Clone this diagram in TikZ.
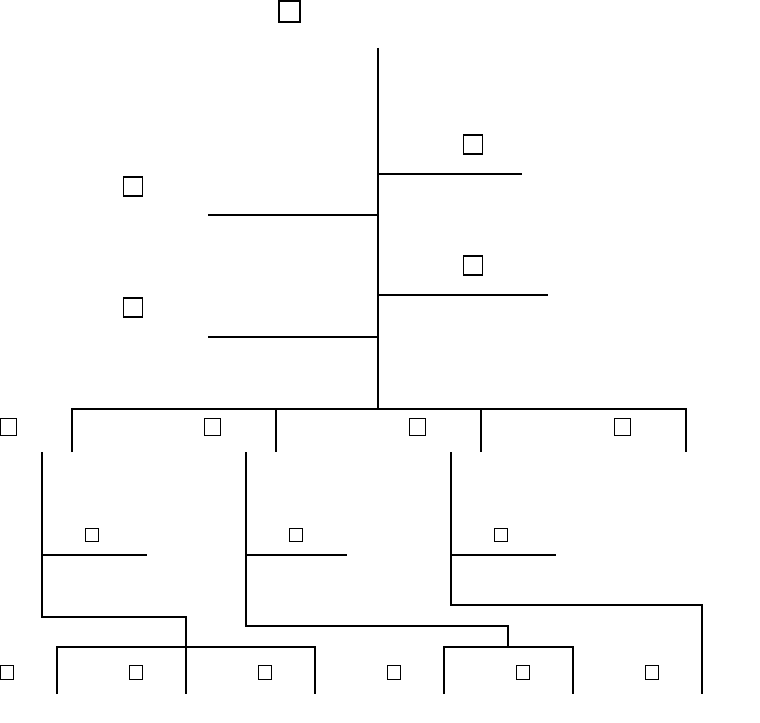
\documentclass[tikz,border=0pt]{standalone}
\begin{document}
\begin{tikzpicture}[x=0.75pt,y=-0.75pt,line width=0.75pt,
  sqA/.style={draw,line width=1pt,inner sep=0pt,minimum size=15.6pt},
  sqB/.style={draw,line width=1pt,inner sep=0pt,minimum size=14.4pt},
  sqC/.style={draw,line width=1pt,inner sep=0pt,minimum size=12.4pt},
  sqD/.style={draw,line width=1pt,inner sep=0pt,minimum size=10.1pt},
  edge/.style={draw,line width=0.8pt}]
\useasboundingbox (0,0) rectangle (760,723);
% labels (squares)
\node[sqA] (t) at (289.5,11.5) {};
\node[sqB] (r1) at (473,144.5) {};
\node[sqB] (r2) at (473,265.5) {};
\node[sqB] (l1) at (133,186.5) {};
\node[sqB] (l2) at (133,307.5) {};
\node[sqC] (m0) at (8.3,427) {};
\node[sqC] (m1) at (212.5,427) {};
\node[sqC] (m2) at (417.5,427) {};
\node[sqC] (m3) at (622.5,427) {};
\node[sqD] (s1) at (92,535) {};
\node[sqD] (s2) at (296,535) {};
\node[sqD] (s3) at (501,535) {};
\node[sqD] (b0) at (7,672.5) {};
\node[sqD] (b1) at (136,672.5) {};
\node[sqD] (b2) at (265,672.5) {};
\node[sqD] (b3) at (394,672.5) {};
\node[sqD] (b4) at (523,672.5) {};
\node[sqD] (b5) at (652,672.5) {};
% coordinates
\coordinate (top) at (378,48);
\coordinate (hub) at (378,409);
\coordinate (ra) at (378,174);  \coordinate (rae) at (522,174);
\coordinate (rb) at (378,295);  \coordinate (rbe) at (548,295);
\coordinate (la) at (378,215);  \coordinate (lae) at (208,215);
\coordinate (lb) at (378,337);  \coordinate (lbe) at (208,337);
\coordinate (h0) at (72,409); \coordinate (h1) at (276,409);
\coordinate (h2) at (481,409); \coordinate (h3) at (686,409);
\coordinate (d0) at (72,452); \coordinate (d1) at (276,452);
\coordinate (d2) at (481,452); \coordinate (d3) at (686,452);
\coordinate (v0) at (42,452); \coordinate (v1) at (246,452); \coordinate (v2) at (451,452);
\coordinate (v0b) at (42,555); \coordinate (v0e) at (147,555);
\coordinate (v1b) at (246,555); \coordinate (v1e) at (347,555);
\coordinate (v2b) at (451,555); \coordinate (v2e) at (556,555);
\coordinate (v0c) at (42,617); \coordinate (k0) at (186,617); \coordinate (k0e) at (186,694);
\coordinate (v1c) at (246,626); \coordinate (k1) at (508,626); \coordinate (k1e) at (508,647);
\coordinate (v2c) at (451,605); \coordinate (k2) at (702,605); \coordinate (k2e) at (702,694);
\coordinate (p0) at (57,647); \coordinate (p1) at (315,647);
\coordinate (p0e) at (57,694); \coordinate (p1e) at (315,694);
\coordinate (q0) at (444,647); \coordinate (q1) at (573,647);
\coordinate (q0e) at (444,694); \coordinate (q1e) at (573,694);
% tree
\draw[edge] (top) -- (hub);
\draw[edge] (ra) -- (rae);
\draw[edge] (rb) -- (rbe);
\draw[edge] (la) -- (lae);
\draw[edge] (lb) -- (lbe);
\draw[edge] (d0) -- (h0) -- (h3) -- (d3);
\draw[edge] (h1) -- (d1);
\draw[edge] (h2) -- (d2);
\draw[edge] (v0) -- (v0c) -- (k0) -- (k0e);
\draw[edge] (v0b) -- (v0e);
\draw[edge] (v1) -- (v1c) -- (k1) -- (k1e);
\draw[edge] (v1b) -- (v1e);
\draw[edge] (v2) -- (v2c) -- (k2) -- (k2e);
\draw[edge] (v2b) -- (v2e);
\draw[edge] (p0e) -- (p0) -- (p1) -- (p1e);
\draw[edge] (q0e) -- (q0) -- (q1) -- (q1e);
\end{tikzpicture}
\end{document}
